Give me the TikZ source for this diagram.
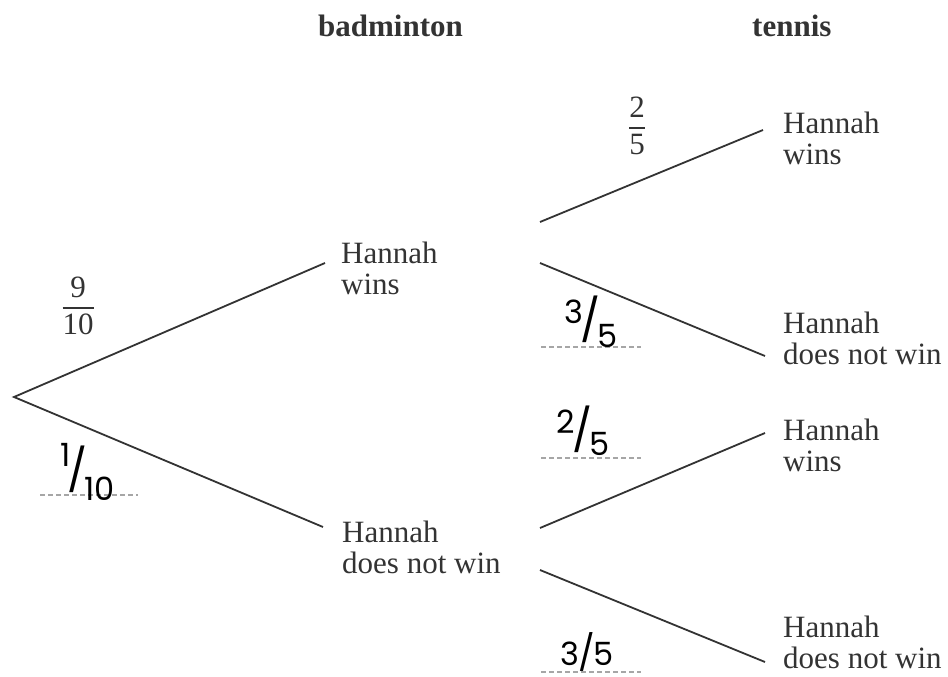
\documentclass[tikz,border=0pt]{standalone}
\usepackage{amsmath}
\usepackage{fontspec}
\setmainfont{Liberation Serif}
\newfontfamily\handfont{Poppins}
\definecolor{ink}{HTML}{333333}
\begin{document}
\begin{tikzpicture}[x=1pt,y=-1pt,
  lbl/.style={anchor=north west, inner sep=0pt, align=left, text=ink, font=\fontsize{31}{31}\selectfont},
  head/.style={anchor=base west, inner sep=0pt, text=ink, font=\fontsize{31}{31}\selectfont\bfseries},
  branch/.style={draw=ink, line width=1.8pt},
  hand/.style={inner sep=0pt, text=black, font=\handfont\fontsize{32}{32}\selectfont},
  blank/.style={draw=gray!70, line width=1.2pt, dash pattern=on 5pt off 3pt},
  prob/.style={inner sep=0pt, text=ink, font=\fontsize{31}{31}\selectfont}]
\useasboundingbox (0,0) rectangle (948,677);
% headings
\node[head] (hb) at (318,37) {badminton};
\node[head] (ht) at (752,37) {tennis};
% branch points
\coordinate (root) at (14,397);
\coordinate (mwin) at (325,263);
\coordinate (mlose) at (323,527);
\coordinate (wA) at (540,222); \coordinate (eA) at (763,130);
\coordinate (wB) at (540,263); \coordinate (eB) at (765,356);
\coordinate (wC) at (540,528); \coordinate (eC) at (765,433);
\coordinate (wD) at (540,570); \coordinate (eD) at (765,662);
\draw[branch] (mwin) -- (root) -- (mlose);
\draw[branch] (wA) -- (eA);
\draw[branch] (wB) -- (eB);
\draw[branch] (wC) -- (eC);
\draw[branch] (wD) -- (eD);
% labels
\node[lbl] (MW) at (341,242) {Hannah\\wins};
\node[lbl] (ML) at (342,521) {Hannah\\does not win};
\node[lbl] (RW1) at (783,112) {Hannah\\wins};
\node[lbl] (RN1) at (783,312) {Hannah\\does not win};
\node[lbl] (RW2) at (783,419) {Hannah\\wins};
\node[lbl] (RN2) at (783,616) {Hannah\\does not win};
% printed probabilities
\node[prob] (p910) at (78,306) {$\genfrac{}{}{1.8pt}{0}{\text{9}}{\text{10}}$};
\node[prob] (p25) at (637,126) {$\genfrac{}{}{1.8pt}{0}{\text{2}}{\text{5}}$};
% answer blanks
\coordinate (b1a) at (40,495); \coordinate (b1b) at (138,495);
\coordinate (b2a) at (541,347); \coordinate (b2b) at (641,347);
\coordinate (b3a) at (541,458); \coordinate (b3b) at (641,458);
\coordinate (b4a) at (541,672); \coordinate (b4b) at (641,672);
\draw[blank] (b1a) -- (b1b);
\draw[blank] (b2a) -- (b2b);
\draw[blank] (b3a) -- (b3b);
\draw[blank] (b4a) -- (b4b);
% handwritten answers
\node[hand] (a1) at (88,472) {\raisebox{0.6em}{1}\kern-0.1em{\fontsize{42}{42}\selectfont/}\kern-0.1em\raisebox{-0.45em}{10}};
\node[hand] (a2) at (591,322) {\raisebox{0.38em}{3}\kern-0.08em{\fontsize{42}{42}\selectfont/}\kern-0.08em\raisebox{-0.38em}{5}};
\node[hand] (a3) at (583,431) {\raisebox{0.4em}{2}\kern-0.08em{\fontsize{42}{42}\selectfont/}\kern-0.08em\raisebox{-0.3em}{5}};
\node[hand] (a4) at (587,652) {3\kern-0.05em{\fontsize{35}{35}\selectfont/}\kern-0.05em5};
\end{tikzpicture}
\end{document}
